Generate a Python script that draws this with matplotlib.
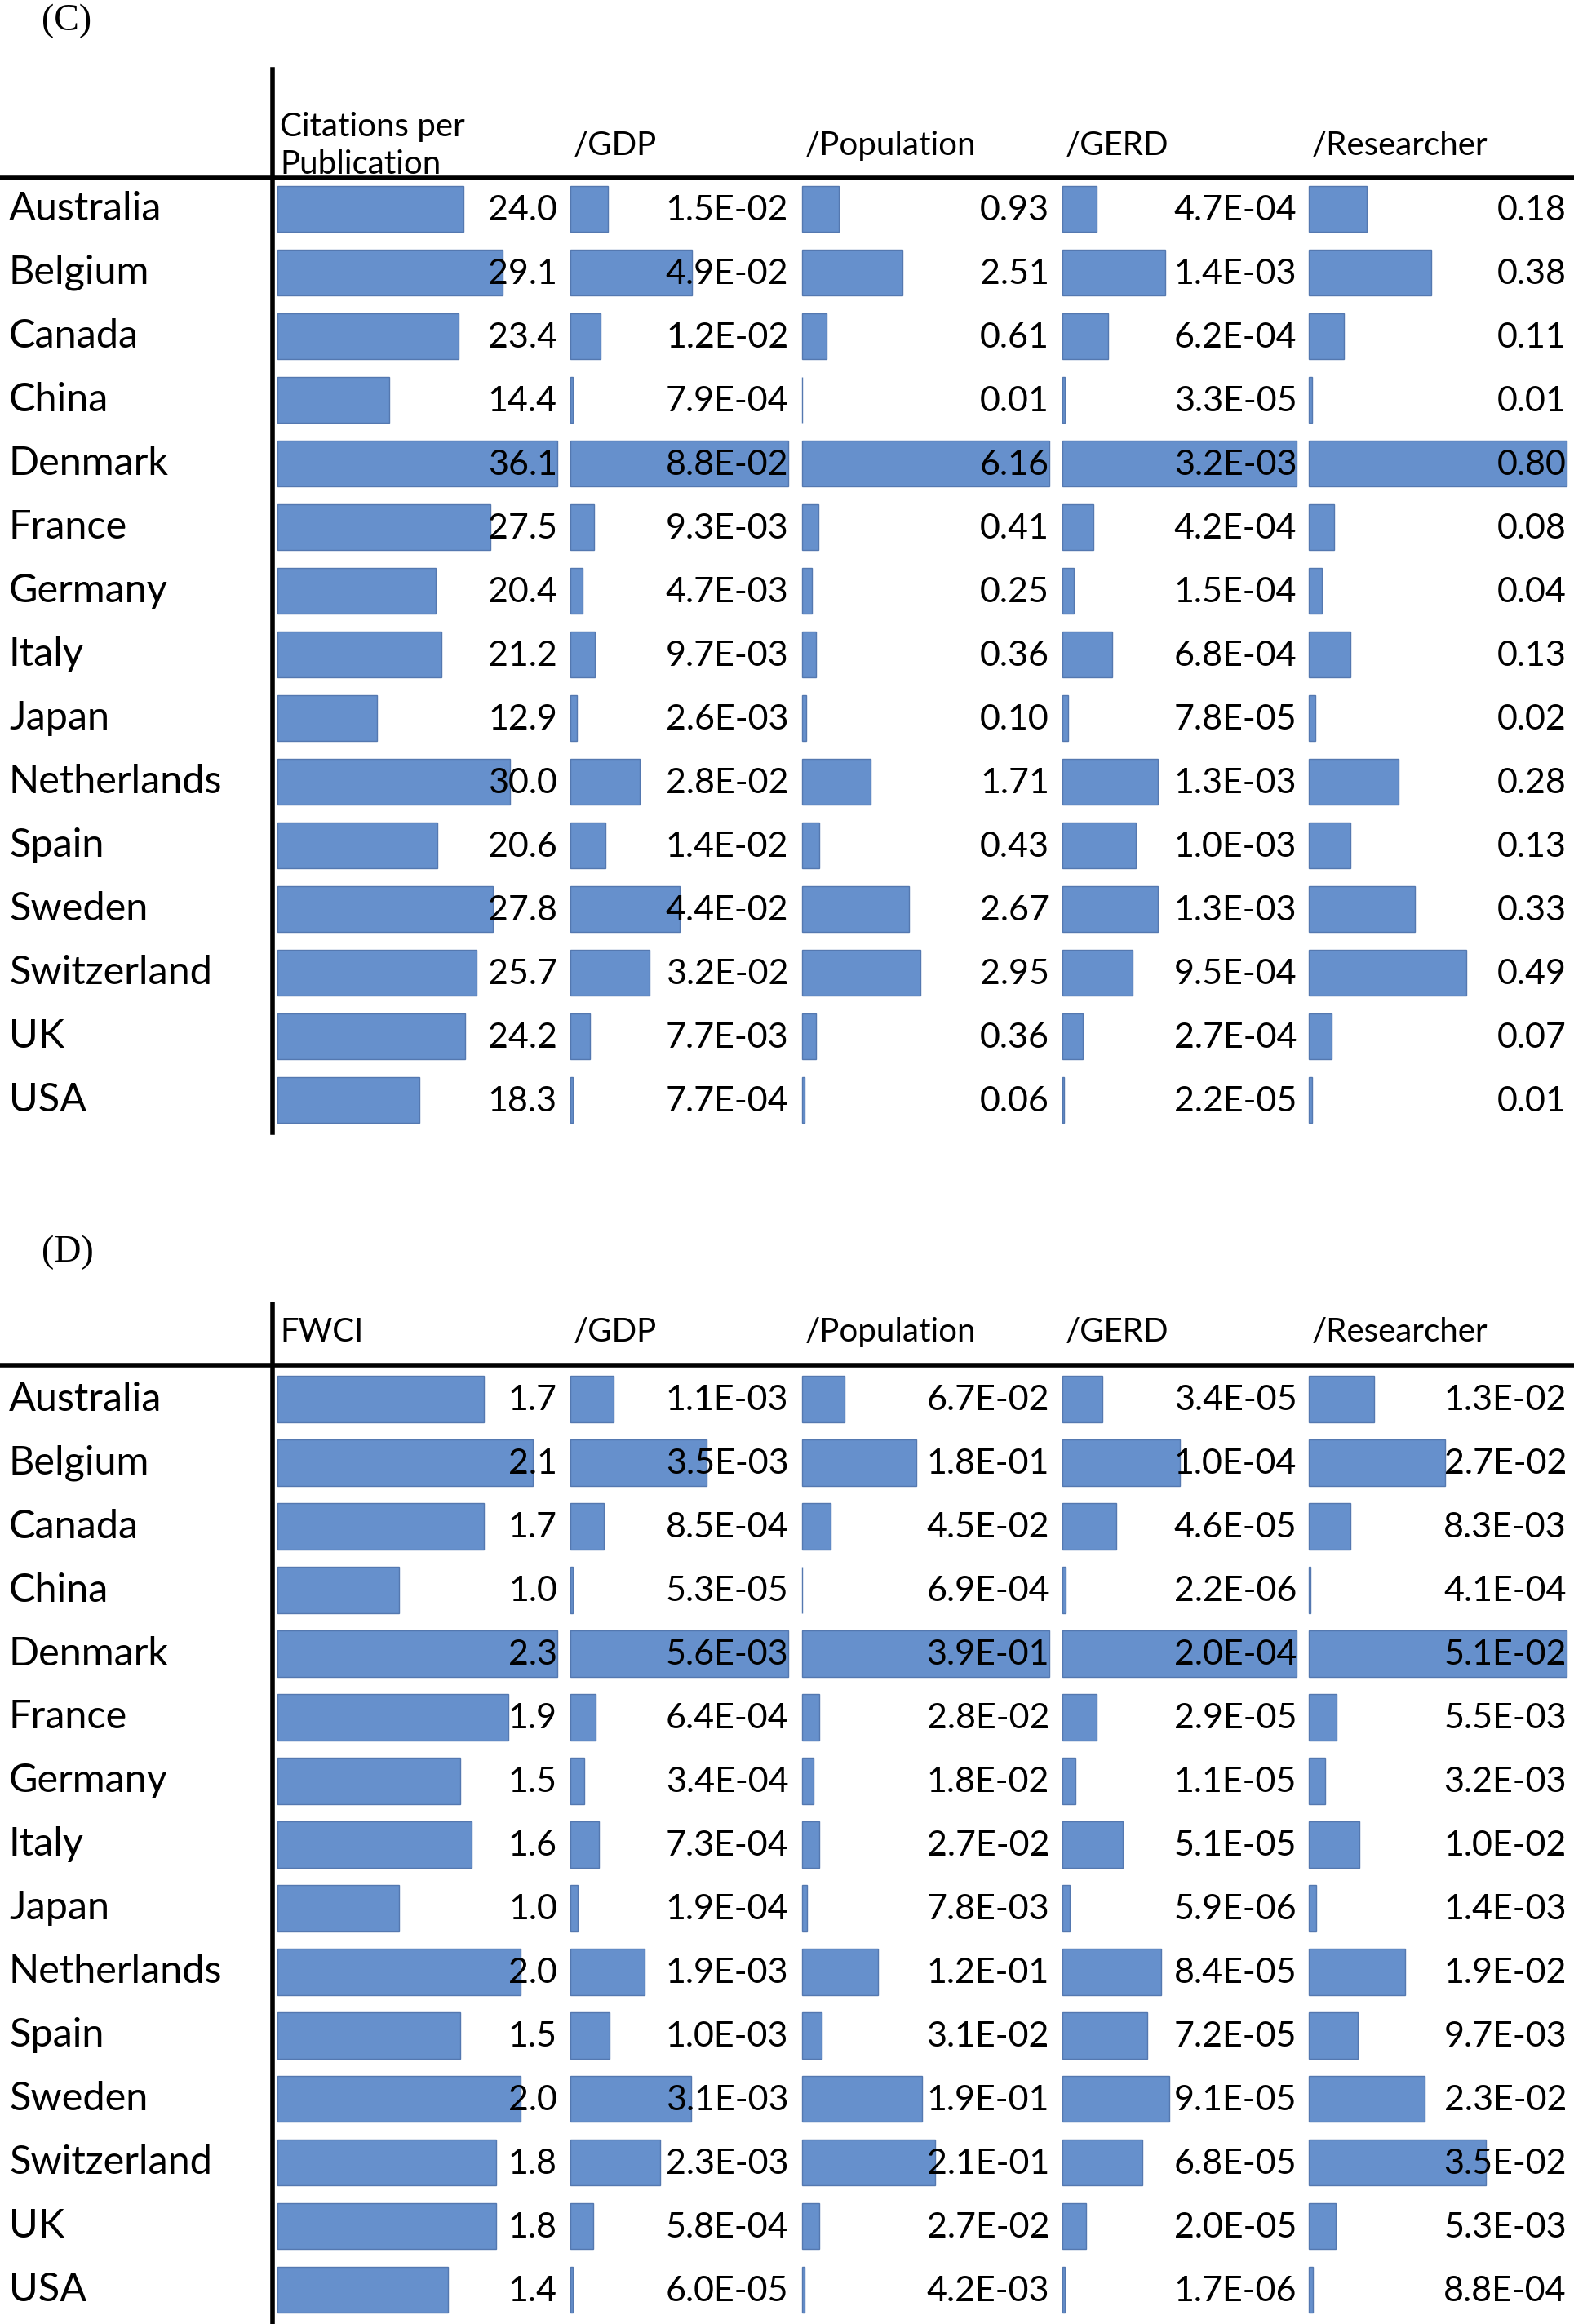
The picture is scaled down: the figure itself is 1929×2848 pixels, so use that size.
import matplotlib
matplotlib.use("Agg")
import matplotlib.pyplot as plt

countries = ["Australia","Belgium","Canada","China","Denmark","France","Germany","Italy",
             "Japan","Netherlands","Spain","Sweden","Switzerland","UK","USA"]

c_cpp = [24.0,29.1,23.4,14.4,36.1,27.5,20.4,21.2,12.9,30.0,20.6,27.8,25.7,24.2,18.3]
c_gdp = [1.5e-2,4.9e-2,1.2e-2,7.9e-4,8.8e-2,9.3e-3,4.7e-3,9.7e-3,2.6e-3,2.8e-2,1.4e-2,4.4e-2,3.2e-2,7.7e-3,7.7e-4]
c_pop = [0.93,2.51,0.61,0.01,6.16,0.41,0.25,0.36,0.10,1.71,0.43,2.67,2.95,0.36,0.06]
c_gerd = [4.7e-4,1.4e-3,6.2e-4,3.3e-5,3.2e-3,4.2e-4,1.5e-4,6.8e-4,7.8e-5,1.3e-3,1.0e-3,1.3e-3,9.5e-4,2.7e-4,2.2e-5]
c_res = [0.18,0.38,0.11,0.01,0.80,0.08,0.04,0.13,0.02,0.28,0.13,0.33,0.49,0.07,0.01]

d_fwci = [1.7,2.1,1.7,1.0,2.3,1.9,1.5,1.6,1.0,2.0,1.5,2.0,1.8,1.8,1.4]
d_gdp = [1.1e-3,3.5e-3,8.5e-4,5.3e-5,5.6e-3,6.4e-4,3.4e-4,7.3e-4,1.9e-4,1.9e-3,1.0e-3,3.1e-3,2.3e-3,5.8e-4,6.0e-5]
d_pop = [6.7e-2,1.8e-1,4.5e-2,6.9e-4,3.9e-1,2.8e-2,1.8e-2,2.7e-2,7.8e-3,1.2e-1,3.1e-2,1.9e-1,2.1e-1,2.7e-2,4.2e-3]
d_gerd = [3.4e-5,1.0e-4,4.6e-5,2.2e-6,2.0e-4,2.9e-5,1.1e-5,5.1e-5,5.9e-6,8.4e-5,7.2e-5,9.1e-5,6.8e-5,2.0e-5,1.7e-6]
d_res = [1.3e-2,2.7e-2,8.3e-3,4.1e-4,5.1e-2,5.5e-3,3.2e-3,1.0e-2,1.4e-3,1.9e-2,9.7e-3,2.3e-2,3.5e-2,5.3e-3,8.8e-4]

c_headers = ["Citations per\nPublication","/GDP","/Population","/GERD","/Researcher"]
d_headers = ["FWCI","/GDP","/Population","/GERD","/Researcher"]

FAM = ["Lato","DejaVu Sans"]
BAR = "#6690CC"
EDGE = "#5478B0"
cols = [(187,376),(385,532),(541,708),(717,875),(883,1057)]

fig = plt.figure(figsize=(19.29,28.48), dpi=100)
ax = fig.add_axes([0,0,1,1])
ax.set_xlim(0,1062); ax.set_ylim(1568,0); ax.axis("off")

def fmt_e(v):
    s = f"{v:.1E}"
    return s

def panel(label, ly, top, hline, y0, headers, series, fmts):
    ax.text(28, ly, label, family="Liberation Serif", fontsize=33, ha="left", va="center")
    step = 42.93
    ys = [y0 + i*step for i in range(len(countries))]
    ax.plot([0,1062],[hline,hline], color="black", lw=4)
    ax.plot([184,184],[top, ys[-1]+22], color="black", lw=4)
    for (x0,x1), h, vals, f in zip(cols, headers, series, fmts):
        ax.text(x0+2, hline-22, h, family=FAM, fontsize=29, ha="left", va="center", linespacing=1.3)
        m = max(vals)
        w = x1 - x0
        ax.barh(ys, [v/m*w for v in vals], left=x0, height=31, color=BAR, edgecolor=EDGE, lw=1)
        for y, v in zip(ys, vals):
            ax.text(x1, y+1, f(v), family=FAM, fontsize=31, ha="right", va="center")
    for y, c in zip(ys, countries):
        ax.text(6, y, c, family=FAM, fontsize=35, ha="left", va="center")

e = fmt_e
panel("(C)", 14, 47, 120, 141, c_headers, [c_cpp,c_gdp,c_pop,c_gerd,c_res],
      [lambda v: f"{v:.1f}", e, lambda v: f"{v:.2f}", e, lambda v: f"{v:.2f}"])
panel("(D)", 845, 880, 921, 944, d_headers, [d_fwci,d_gdp,d_pop,d_gerd,d_res],
      [lambda v: f"{v:.1f}", e, e, e, e])

fig.savefig("out.png", dpi=100, facecolor="white")
